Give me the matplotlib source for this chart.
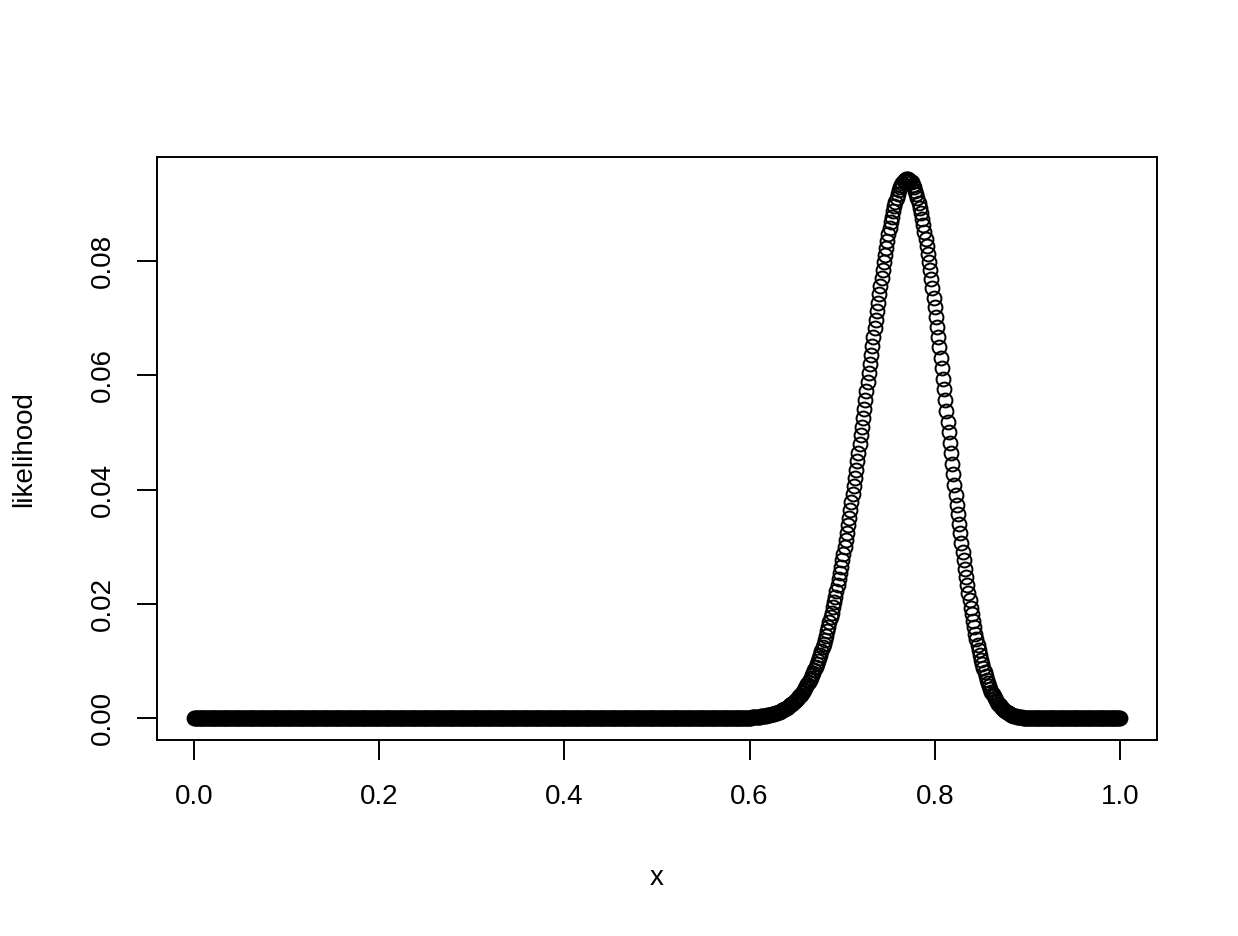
import matplotlib
matplotlib.use("Agg")
import matplotlib.pyplot as plt
import numpy as np

plt.rcParams['font.family'] = ['Liberation Sans', 'DejaVu Sans']

# flat parts of the curve (read as zero on the picture)
flat_left_x = np.arange(0, 600) / 1000.0
flat_right_x = np.arange(901, 1001) / 1000.0

# curve values, x from 0.6 to 0.9 in steps of 0.00125
curve_start = 0.6
curve_step = 0.00125
curve_y = [
    0.000145, 0.000158, 0.000173, 0.000188, 0.000205, 0.000224, 0.000244, 0.000266,
    0.000289, 0.000314, 0.000341, 0.000370, 0.000402, 0.000436, 0.000473, 0.000512,
    0.000555, 0.000601, 0.000650, 0.000703, 0.000760, 0.000821, 0.000886, 0.000956,
    0.001031, 0.001111, 0.001197, 0.001288, 0.001386, 0.001490, 0.001601, 0.001719,
    0.001846, 0.001980, 0.002123, 0.002275, 0.002437, 0.002608, 0.002790, 0.002982,
    0.003187, 0.003402, 0.003632, 0.003873, 0.004129, 0.004398, 0.004684, 0.004983,
    0.005301, 0.005633, 0.005985, 0.006352, 0.006742, 0.007146, 0.007575, 0.008020,
    0.008492, 0.008980, 0.009497, 0.010032, 0.010596, 0.011178, 0.011793, 0.012427,
    0.013095, 0.013781, 0.014503, 0.015245, 0.016025, 0.016823, 0.017660, 0.018518,
    0.019417, 0.020332, 0.021290, 0.022267, 0.023288, 0.024326, 0.025411, 0.026510,
    0.027656, 0.028813, 0.030019, 0.031235, 0.032500, 0.033773, 0.035096, 0.036423,
    0.037801, 0.039177, 0.040603, 0.042026, 0.043499, 0.044959, 0.046467, 0.047963,
    0.049508, 0.051031, 0.052601, 0.054143, 0.055731, 0.057286, 0.058885, 0.060444,
    0.062044, 0.063592, 0.065179, 0.066709, 0.068275, 0.069773, 0.071303, 0.072758,
    0.074243, 0.075647, 0.077078, 0.078416, 0.079777, 0.081041, 0.082324, 0.083496,
    0.084685, 0.085754, 0.086836, 0.087793, 0.088760, 0.089589, 0.090425, 0.091125,
    0.091830, 0.092375, 0.092923, 0.093327, 0.093732, 0.093983, 0.094234, 0.094336,
    0.094439, 0.094346, 0.094254, 0.094012, 0.093771, 0.093340, 0.092910, 0.092332,
    0.091758, 0.090999, 0.090246, 0.089345, 0.088452, 0.087376, 0.086313, 0.085116,
    0.083936, 0.082585, 0.081256, 0.079809, 0.078387, 0.076809, 0.075262, 0.073604,
    0.071983, 0.070239, 0.068538, 0.066731, 0.064972, 0.063113, 0.061308, 0.059417,
    0.057585, 0.055681, 0.053839, 0.051929, 0.050087, 0.048197, 0.046378, 0.044509,
    0.042715, 0.040896, 0.039154, 0.037380, 0.035686, 0.033984, 0.032363, 0.030725,
    0.029170, 0.027627, 0.026166, 0.024699, 0.023314, 0.021952, 0.020669, 0.019393,
    0.018195, 0.017026, 0.015932, 0.014851, 0.013843, 0.012870, 0.011965, 0.011078,
    0.010256, 0.009469, 0.008743, 0.008036, 0.007386, 0.006770, 0.006205, 0.005660,
    0.005163, 0.004695, 0.004270, 0.003864, 0.003496, 0.003153, 0.002843, 0.002550,
    0.002287, 0.002044, 0.001827, 0.001624, 0.001443, 0.001278, 0.001131, 0.000995,
    0.000875, 0.000766, 0.000671, 0.000584, 0.000508, 0.000440, 0.000381, 0.000328,
    0.000282, 0.000242, 0.000207, 0.000176, 0.000149, 0.000126, 0.000106, 0.000089,
    0.000075,
]
curve_x = curve_start + curve_step * np.arange(len(curve_y))

x_ticks = [0.0, 0.2, 0.4, 0.6, 0.8, 1.0]
y_ticks = [0.00, 0.02, 0.04, 0.06, 0.08]

fig = plt.figure(figsize=(12.38, 9.36), dpi=100)
ax = fig.add_axes([157 / 1238, 1 - 740 / 936, 1000 / 1238, 583 / 936])

marker_style = dict(linestyle='none', marker='o', mfc='none', mec='black', ms=10, mew=1.4)
ax.plot(flat_left_x, np.zeros(len(flat_left_x)), **marker_style)
ax.plot(curve_x, curve_y, **marker_style)
ax.plot(flat_right_x, np.zeros(len(flat_right_x)), **marker_style)

# R style 4% padding
ymax = max(curve_y)
ax.set_xlim(-0.04, 1.04)
ax.set_ylim(-0.04 * ymax, 1.04 * ymax)

ax.set_xticks(x_ticks)
ax.set_xticklabels(["%.1f" % v for v in x_ticks])
ax.set_yticks(y_ticks)
ax.set_yticklabels(["%.2f" % v for v in y_ticks], rotation=90, va='center')

for s in ax.spines.values():
    s.set_linewidth(1.4)
ax.tick_params(direction='out', length=14.4, width=1.4, labelsize=20)
ax.tick_params(axis='x', pad=17)
ax.tick_params(axis='y', pad=15)

fig.text(657 / 1238, 1 - 878 / 936, "x", fontsize=20, ha='center', va='center')
fig.text(24 / 1238, 1 - 449 / 936, "likelihood", fontsize=20, ha='center', va='center', rotation=90)

plt.savefig("out.png", dpi=100)
